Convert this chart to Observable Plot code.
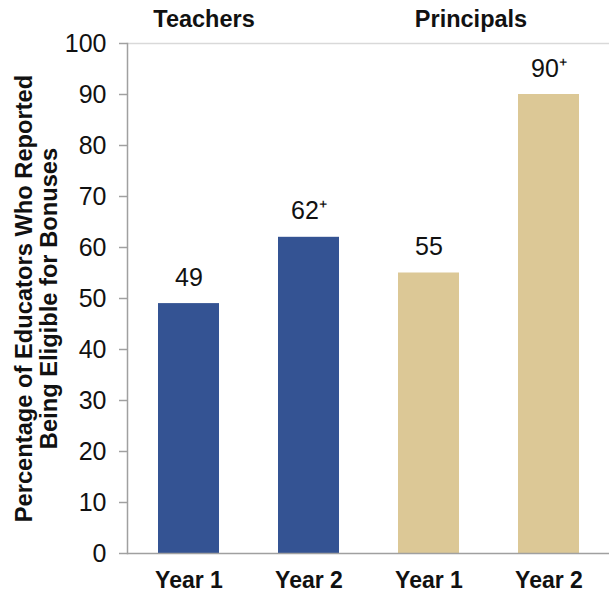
<!DOCTYPE html>
<html>
<head>
<meta charset="utf-8">
<script src="https://cdn.jsdelivr.net/npm/d3@7"></script>
<script src="https://cdn.jsdelivr.net/npm/@observablehq/plot@0.6"></script>
<style>
  html, body { margin: 0; padding: 0; background: #fff; }
  #chart svg { display: block; }
</style>
</head>
<body>
<div id="chart"></div>
<script>
const groups = ["Teachers", "Teachers", "Principals", "Principals"];
const years = ["Year 1", "Year 2", "Year 1", "Year 2"];
const values = [49, 62, 55, 90];
const suffixes = ["", "⁺", "", "⁺"];
const groupTitles = ["Teachers", "Principals"];
const yTicks = [0, 10, 20, 30, 40, 50, 60, 70, 80, 90, 100];
const groupColors = ["#345393", "#dcc896"];
const yLabel = "Percentage of Educators Who Reported\nBeing Eligible for Bonuses";

const data = values.map((v, i) => ({
  key: groups[i] + " " + years[i],
  group: groups[i],
  year: years[i],
  value: v,
  label: v + suffixes[i]
}));
const keys = data.map(d => d.key);
const firstKey = g => data.find(d => d.group === g).key;

const font = "'Liberation Sans', Arial, sans-serif";

const chart = Plot.plot({
  width: 609,
  height: 592,
  marginLeft: 127,
  marginRight: 0,
  marginTop: 43,
  marginBottom: 39,
  style: {fontFamily: font, color: "#111", background: "#fff"},
  x: {domain: keys, paddingInner: 0.494, paddingOuter: 0.25, axis: null},
  y: {domain: [0, 100], axis: null},
  color: {domain: groupTitles, range: groupColors},
  marks: [
    Plot.ruleY([100], {stroke: "#d9d9d9", strokeWidth: 1.5}),
    Plot.barY(data, {x: "key", y: "value", fill: "group"}),
    Plot.axisY({ticks: yTicks, tickSize: 8, tickPadding: 13, fontSize: 25, stroke: "#a0a0a0", strokeWidth: 1.5, label: null, fill: "#111"}),
    Plot.frame({anchor: "left", stroke: "#a0a0a0", strokeWidth: 1.5}),
    Plot.ruleY([0], {stroke: "#a0a0a0", strokeWidth: 1.5}),
    Plot.axisX({domain: keys, tickSize: 0, tickPadding: 18, fontSize: 23, fontWeight: "bold", tickFormat: k => data.find(d => d.key === k).year, label: null, fill: "#111"}),
    Plot.text(data, {x: "key", y: "value", text: "label", dy: -26, fontSize: 25, lineAnchor: "middle", fill: "#111"}),
    Plot.text([groupTitles[0]], {x: [firstKey(groupTitles[0])], text: d => d, frameAnchor: "top", dy: -24.5, dx: 15, fontSize: 23.5, fontWeight: "bold", lineAnchor: "middle", fill: "#111"}),
    Plot.text([groupTitles[1]], {x: [firstKey(groupTitles[1])], text: d => d, frameAnchor: "top", dy: -24.5, dx: 42, fontSize: 23.5, fontWeight: "bold", lineAnchor: "middle", fill: "#111"}),
    Plot.text([yLabel], {text: d => d, frameAnchor: "left", dx: -91, rotate: -90, fontSize: 23.7, fontWeight: "bold", lineHeight: 1.05, fill: "#111", textAnchor: "middle", lineAnchor: "middle"})
  ]
});
document.getElementById("chart").append(chart);
</script>
</body>
</html>
